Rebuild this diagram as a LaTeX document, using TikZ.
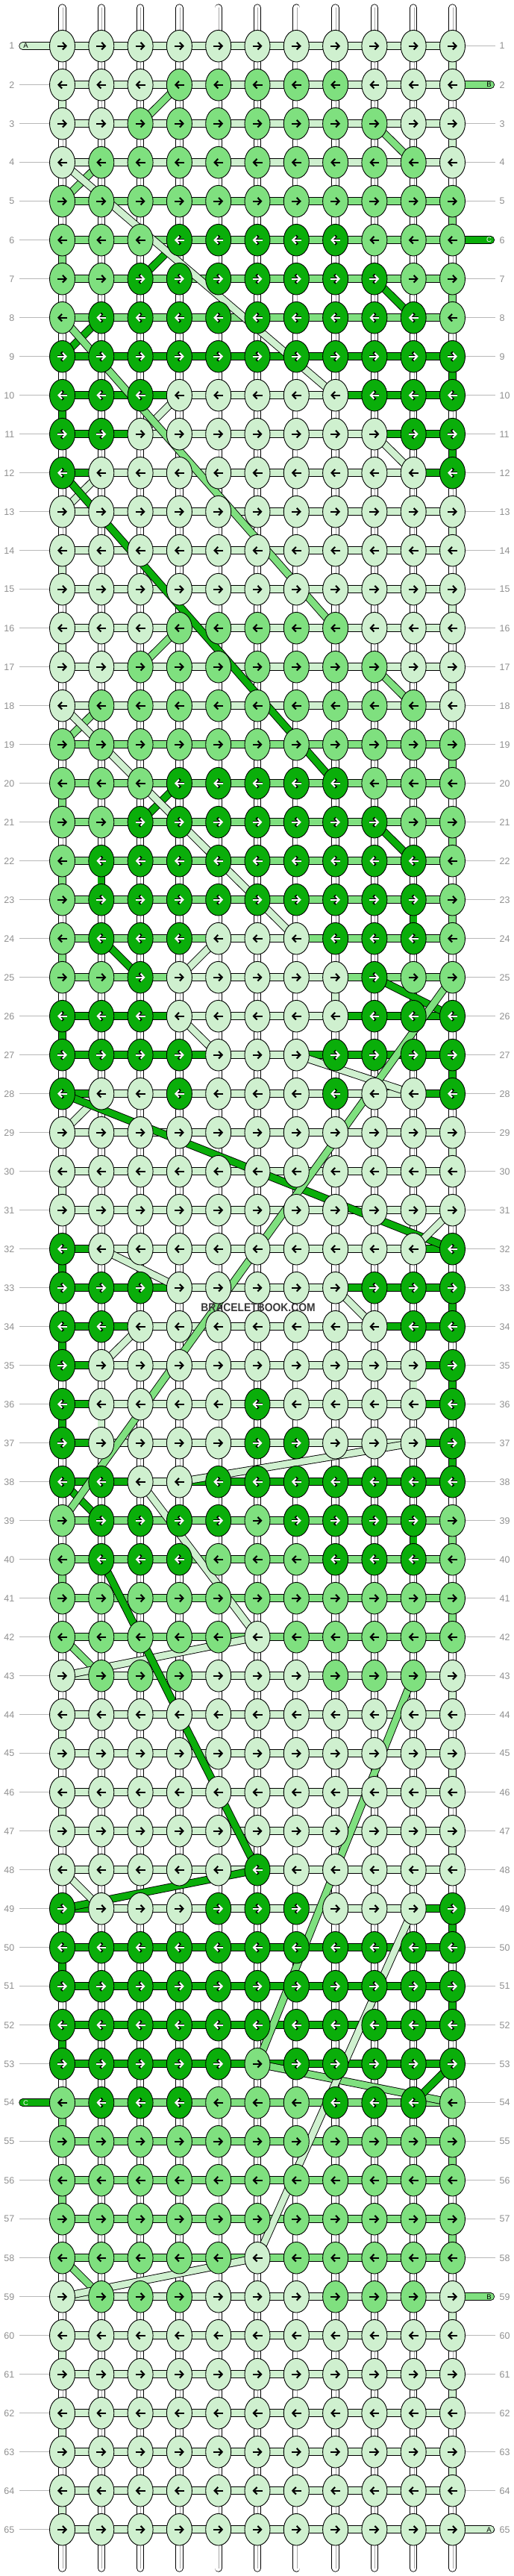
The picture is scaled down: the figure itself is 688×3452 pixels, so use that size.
\documentclass[tikz,border=0pt]{standalone}
\usepackage{fontspec}
\usepackage{graphicx}
\setmainfont{Liberation Sans}
\usetikzlibrary{shapes.geometric,arrows.meta}
\definecolor{knotL}{HTML}{CFF0CF}
\definecolor{knotM}{HTML}{7FE07F}
\definecolor{knotD}{HTML}{0AAE0A}
\definecolor{rowgray}{HTML}{8F8F8F}
\definecolor{guidegray}{HTML}{B8B8B8}
\pgfdeclarelayer{warp}
\pgfdeclarelayer{strand}
\pgfsetlayers{warp,strand,main}
\tikzset{
  knot/.style={ellipse, draw=black, line width=0.9, fill=knot#1, minimum width=34, minimum height=42.6, inner sep=0},
  tube/.style={draw=black, line width=0.9, double=#1, double distance=8.7},
  warp/.style={draw=black, line width=0.9, double=white, double distance=8.5, line cap=round},
  warpline/.style={draw=black!35, line width=0.6},
  arrowtip/.style={line width=2.1, -{Straight Barb[length=4.6pt,width=9.6pt]}},
  arrowedge/.style={line width=3.5, -{Straight Barb[length=5.4pt,width=11.4pt]}},
  rowlab/.style={inner sep=0, text=rowgray, font=\fontsize{12.5}{12.5}\selectfont},
  stublab/.style={inner sep=0, font=\fontsize{9.5}{9.5}\selectfont},
  guideline/.style={draw=guidegray, line width=1}
}
\newcount\kc \newcount\fL \newcount\lL \newcount\fM \newcount\lM
\def\placeknot#1{%
  \edef\kname{k\r-\the\kc}%
  \node[knot=#1] (\kname) at ({83.5+(\the\kc-1)*52.3},{61.7+(\r-1)*52}) {};
  \ifodd\r\relax
    \coordinate (as) at ([xshift=-6.5]\kname.center);
    \coordinate (ae) at ([xshift=6.5]\kname.center);
  \else
    \coordinate (as) at ([xshift=6.5]\kname.center);
    \coordinate (ae) at ([xshift=-6.5]\kname.center);
  \fi
  \if#1D
    \draw[arrowedge, draw=black] (as) -- (ae);
    \draw[arrowtip, draw=white] (as) -- (ae);
  \else
    \draw[arrowtip, draw=black] (as) -- (ae);
  \fi}
\def\scanrow#1{\kc=0 \fL=0 \lL=0 \fM=0 \lM=0 \scanloop#1\relax}
\def\scanloop#1{%
  \ifx#1\relax\else
    \advance\kc by 1
    \if#1L\ifnum\fL=0 \fL=\kc\fi \lL=\kc\fi
    \if#1M\ifnum\fM=0 \fM=\kc\fi \lM=\kc\fi
    \placeknot{#1}%
    \expandafter\scanloop
  \fi}
\begin{document}
\begin{tikzpicture}[x=1pt,y=-1pt]
\useasboundingbox (0,0) rectangle (688,3452);

%fils verticaux
\begin{pgfonlayer}{warp}
\foreach \c in {1,...,11}{
  \coordinate (top\c) at ({83.5+(\c-1)*52.3},10.5);
  \coordinate (bot\c) at ({83.5+(\c-1)*52.3},3441.5);
  \draw[warp] (top\c) -- (bot\c);
  \draw[warpline] ([xshift=0.6]top\c) -- ([xshift=0.6]bot\c);
}
\end{pgfonlayer}

%noeuds, rangs
\foreach \r/\pat in {1/LLLLLLLLLLL,2/LLLMMMMMLLL,3/LLMMMMMMMLL,4/LMMMMMMMMML,5/MMMMMMMMMMM,
  6/MMMDDDDDMMM,7/MMDDDDDDDMM,8/MDDDDDDDDDM,9/DDDDDDDDDDD,10/DDDLLLLLDDD,
  11/DDLLLLLLLDD,12/DLLLLLLLLLD,13/LLLLLLLLLLL,14/LLLLLLLLLLL,15/LLLLLLLLLLL,
  16/LLLMMMMMLLL,17/LLMMMMMMMLL,18/LMMMMMMMMML,19/MMMMMMMMMMM,20/MMMDDDDDMMM,
  21/MMDDDDDDDMM,22/MDDDDDDDDDM,23/MDDDDDDDDDM,24/MDDDLLLDDDM,25/MMDLLLLLDMM,
  26/DDDLLLLLDDD,27/DDDDLLLDDDD,28/DLLDLLLDLLD,29/LLLLLLLLLLL,30/LLLLLLLLLLL,
  31/LLLLLLLLLLL,32/DLLLLLLLLLD,33/DDDLLLLLDDD,34/DDLLLLLLLDD,35/DLLLLLLLLLD,
  36/DLLLLDLLLLD,37/DLLLLDDLLLD,38/DDLLDDDDDDD,39/MDDDDMDDDDM,40/MDDDMMMDDDM,
  41/MMMMMMMMMMM,42/MMMMMLMMMMM,43/LMMMLLLMMML,44/LLLLLLLLLLL,45/LLLLLLLLLLL,
  46/LLLLLLLLLLL,47/LLLLLLLLLLL,48/LLLLLDLLLLL,49/DLLLDDDLLLD,50/DDDDDDDDDDD,
  51/DDDDDDDDDDD,52/DDDDDDDDDDD,53/DDDDDMDDDDD,54/MDDDMMMDDDM,55/MMMMMMMMMMM,
  56/MMMMMMMMMMM,57/MMMMMMMMMMM,58/MMMMMLMMMMM,59/LMMMLLLMMML,60/LLLLLLLLLLL,
  61/LLLLLLLLLLL,62/LLLLLLLLLLL,63/LLLLLLLLLLL,64/LLLLLLLLLLL,65/LLLLLLLLLLL}{
  \expandafter\scanrow\expandafter{\pat}
  \node[rowlab, anchor=east] (ll\r) at (19.5,{61.7+(\r-1)*52}) {\r};
  \node[rowlab, anchor=west] (rl\r) at (669.5,{61.7+(\r-1)*52}) {\r};
  \pgfmathtruncatemacro\lstub{(\r==1)||(\r==54)}
  \pgfmathtruncatemacro\rstub{(\r==2)||(\r==6)||(\r==59)||(\r==65)}
  \begin{pgfonlayer}{warp}
    \ifnum\lstub=0 \draw[guideline] ([xshift=6.5]ll\r.east) -- (k\r-1.center);\fi
    \ifnum\rstub=0 \draw[guideline] (k\r-11.center) -- ([xshift=-5.5]rl\r.west);\fi
  \end{pgfonlayer}
  \begin{pgfonlayer}{strand}
  \foreach \j in {1,...,10}{
    \pgfmathtruncatemacro\jj{\j+1}
    \def\segc{D}
    \ifnum\j<\fM\else\ifnum\j<\lM \def\segc{M}\fi\fi
    \ifnum\j<\fL\else\ifnum\j<\lL \def\segc{L}\fi\fi
    \draw[tube=knot\segc] (k\r-\j.center) -- (k\r-\jj.center);
  }
  \end{pgfonlayer}
}

\begin{pgfonlayer}{strand}
%passages d'un rang a l'autre (A=L, B=M, C=D)
\foreach \a/\b/\s in {1-11/2-11/L,2-4/3-3/M,2-1/3-1/L,3-9/4-10/M,3-11/4-11/L,4-2/5-1/M,
  5-11/6-11/M,6-4/7-3/D,6-1/7-1/M,7-9/8-10/D,7-11/8-11/M,8-2/9-1/D,9-11/10-11/D,4-1/10-8/L,
  10-1/11-1/D,10-4/11-3/L,11-11/12-11/D,11-9/12-10/L,12-2/13-1/L,13-11/14-11/L,14-1/15-1/L,
  8-1/16-8/M,15-11/16-11/L,16-4/17-3/M,16-1/17-1/L,17-9/18-10/M,17-11/18-11/L,18-2/19-1/M,
  12-1/20-8/D,19-11/20-11/M,20-4/21-3/D,20-1/21-1/M,21-9/22-10/D,21-11/22-11/M,
  22-2/23-2/D,22-1/23-1/M,23-10/24-10/D,23-11/24-11/M,18-1/24-7/L,24-2/25-3/D,24-1/25-1/M,
  24-5/25-4/L,25-9/26-11/D,25-8/26-8/L,26-1/27-1/D,26-4/27-5/L,27-11/28-11/D,27-7/28-10/L,
  28-2/29-1/L,29-11/30-11/L,30-1/31-1/L,28-1/32-11/D,31-11/32-10/L,32-1/33-1/D,32-2/33-4/L,
  33-11/34-11/D,33-8/34-9/L,34-1/35-1/D,34-3/35-2/L,35-11/36-11/D,35-10/36-10/L,
  36-1/37-1/D,36-2/37-2/L,37-11/38-11/D,37-10/38-4/L,38-1/39-2/D,25-11/39-1/M,
  39-10/40-10/D,39-11/40-11/M,40-1/41-1/M,41-11/42-11/M,38-3/42-6/L,42-1/43-2/M,
  42-6/43-1/L,43-11/44-11/L,44-1/45-1/L,45-11/46-11/L,46-1/47-1/L,40-2/48-6/D,
  47-11/48-11/L,48-6/49-1/D,48-1/49-2/L,49-11/50-11/D,50-1/51-1/D,51-11/52-11/D,
  52-1/53-1/D,43-10/53-6/M,53-6/54-11/M,53-11/54-10/D,54-1/55-1/M,55-11/56-11/M,
  56-1/57-1/M,57-11/58-11/M,49-10/58-6/L,58-1/59-2/M,58-6/59-1/L,59-11/60-11/L,
  60-1/61-1/L,61-11/62-11/L,62-1/63-1/L,63-11/64-11/L,64-1/65-1/L}
  \draw[tube=knot\s] (k\a.center) -- (k\b.center);

%bouts
\coordinate (endA1) at (30.5,61.7);
\coordinate (endB2) at (657.8,113.7);
\coordinate (endC6) at (657.8,321.7);
\coordinate (endC54) at (30.5,2817.7);
\coordinate (endB59) at (657.8,3077.7);
\coordinate (endA65) at (657.8,3389.7);
\draw[tube=knotL, line cap=round] (endA1) -- (k1-1.center);
\draw[tube=knotM, line cap=round] (k2-11.center) -- (endB2);
\draw[tube=knotD, line cap=round] (k6-11.center) -- (endC6);
\draw[tube=knotD, line cap=round] (endC54) -- (k54-1.center);
\draw[tube=knotM, line cap=round] (k59-11.center) -- (endB59);
\draw[tube=knotL, line cap=round] (k65-11.center) -- (endA65);
\end{pgfonlayer}
\node[stublab] (labA1) at (34.5,61.7) {A};
\node[stublab] (labB2) at (655.5,113.7) {B};
\node[stublab, text=white] (labC6) at (655.5,321.7) {C};
\node[stublab, text=white] (labC54) at (34.5,2817.7) {C};
\node[stublab] (labB59) at (655.5,3077.7) {B};
\node[stublab] (labA65) at (655.5,3389.7) {A};

%marque
\node[inner sep=0, text=black!78, font=\bfseries\fontsize{15.4}{16}\selectfont] (mark) at (346,1752) {\scalebox{0.9}[1]{BRACELETBOOK.COM}};
\end{tikzpicture}
\end{document}
